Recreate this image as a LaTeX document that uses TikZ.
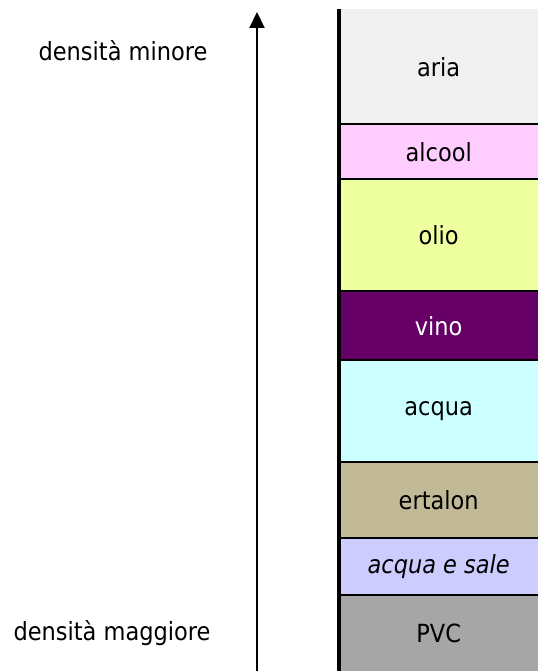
\documentclass[tikz,border=0pt]{standalone}
\usepackage{fontspec}
\setmainfont{DejaVu Sans Condensed}
\usetikzlibrary{arrows.meta}
\definecolor{cAria}{HTML}{F0F0F0}
\definecolor{cAlcool}{HTML}{FFCCFF}
\definecolor{cOlio}{HTML}{EEFF9F}
\definecolor{cVino}{HTML}{660066}
\definecolor{cAcqua}{HTML}{CCFFFF}
\definecolor{cErtalon}{HTML}{C2BA97}
\definecolor{cSale}{HTML}{CCCCFF}
\definecolor{cPVC}{HTML}{A6A6A6}
\tikzset{
  layer/.style={rectangle, anchor=north west, inner sep=0pt, minimum width=199bp,
    font=\fontsize{25bp}{30bp}\selectfont, text=black},
  sidelabel/.style={inner sep=0pt, font=\fontsize{25bp}{30bp}\selectfont},
  sep/.style={line width=2bp, black},
  wall/.style={line width=3.5bp, black},
  axis/.style={line width=2bp, black, -{Triangle[width=15bp,length=16bp]}}
}
\begin{document}
\begin{tikzpicture}[x=1bp,y=-1bp]
\useasboundingbox (0,0) rectangle (538,671);
\node[layer, fill=cAria,    minimum height=115bp] (aria)    at (339,9)   {aria};
\node[layer, fill=cAlcool,  minimum height=55bp]  (alcool)  at (339,124) {alcool};
\node[layer, fill=cOlio,    minimum height=112bp] (olio)    at (339,179) {olio};
\node[layer, fill=cVino,    minimum height=69bp, text=white] (vino) at (339,291) {vino};
\node[layer, fill=cAcqua,   minimum height=102bp] (acqua)   at (339,360) {acqua};
\node[layer, fill=cErtalon, minimum height=76bp]  (ertalon) at (339,462) {ertalon};
\node[layer, fill=cSale,    minimum height=57bp]  (sale)    at (339,538) {\itshape acqua e sale};
\node[layer, fill=cPVC,     minimum height=76bp]  (pvc)     at (339,595) {PVC};
\foreach \n in {alcool,olio,vino,acqua,ertalon,sale,pvc}
  \draw[sep] (\n.north west) -- (\n.north east);
\draw[wall] (aria.north west) -- (pvc.south west);
\coordinate (abot) at (257,671);
\coordinate (atop) at (257,12);
\draw[axis] (abot) -- (atop);
\node[sidelabel] (minore) at (123,51) {densità minore};
\node[sidelabel] (maggiore) at (112,633) {densità maggiore};
\end{tikzpicture}
\end{document}
